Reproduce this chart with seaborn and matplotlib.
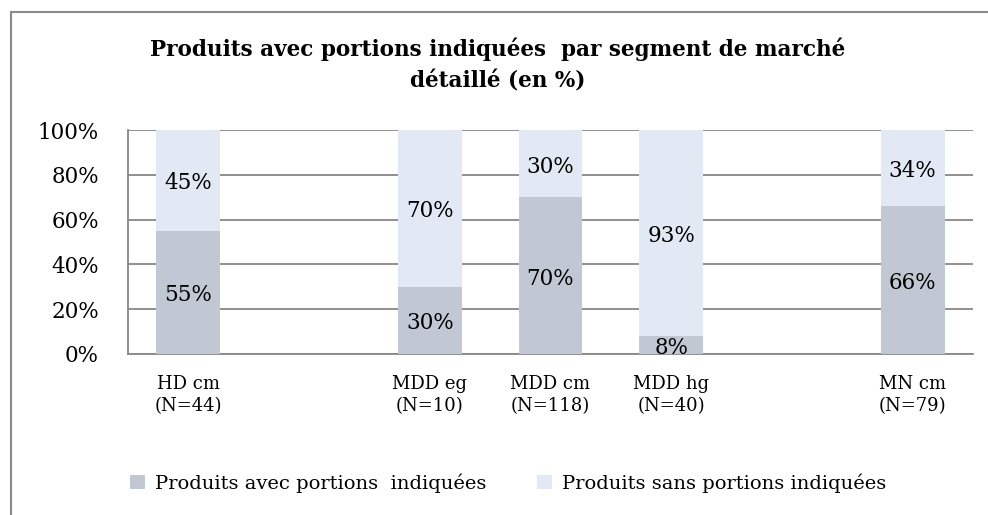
import pandas as pd
import matplotlib.pyplot as plt
import seaborn as sns
from matplotlib.patches import Patch, Rectangle


segments = ["HD cm\n(N=44)", " ", "MDD eg\n(N=10)", "MDD cm\n(N=118)",
            "MDD hg\n(N=40)", "  ", "MN cm\n(N=79)"]
shown = ["HD cm\n(N=44)", "MDD eg\n(N=10)", "MDD cm\n(N=118)",
         "MDD hg\n(N=40)", "MN cm\n(N=79)"]
avec = [55, 30, 70, 8, 66]
sans = [45, 70, 30, 93, 34]

series_names = ["Produits avec portions  indiquées", "Produits sans portions indiquées"]
col_avec = "#c1c8d4"
col_sans = "#e3e9f4"
grid_col = "#878787"

sns.set_style("white")
plt.rcParams['font.family'] = ['DejaVu Serif']
plt.rcParams['text.color'] = 'black'
plt.rcParams['xtick.color'] = 'black'
plt.rcParams['ytick.color'] = 'black'

df = pd.DataFrame({"segment": shown, "avec": avec, "sans": sans})
df["total"] = (df["avec"] + df["sans"]).clip(upper=100)

fig = plt.figure(figsize=(9.88, 5.15), dpi=100)
ax = fig.add_axes([128 / 988, 1 - 354 / 515, (973 - 128) / 988, (354 - 130) / 515])

# light part first (full height), dark part on top
sns.barplot(data=df, x="segment", y="total", order=segments, color=col_sans,
            width=0.53, saturation=1, linewidth=0, ax=ax, zorder=2)
sns.barplot(data=df, x="segment", y="avec", order=segments, color=col_avec,
            width=0.53, saturation=1, linewidth=0, ax=ax, zorder=3)

# data labels
pos = {s: i for i, s in enumerate(segments)}
for s, a, b in zip(shown, avec, sans):
    x = pos[s]
    ax.text(x, a / 2 - 1.3, f"{a}%", ha="center", va="center", fontsize=15.5, zorder=5)
    top = min(a + b, 100)
    ax.text(x, (a + top) / 2 - 1.3, f"{b}%", ha="center", va="center", fontsize=15.5, zorder=5)

ax.set_ylim(0, 100)
ax.set_xlim(-0.5, len(segments) - 0.5)
ax.set_yticks([0, 20, 40, 60, 80, 100])
ax.set_yticklabels([f"{v}%" for v in [0, 20, 40, 60, 80, 100]], fontsize=15.5)
ax.yaxis.grid(True, color=grid_col, linewidth=1.3, zorder=0)
ax.set_axisbelow(True)
ax.set_xlabel("")
ax.set_ylabel("")

ax.set_xticks(range(len(segments)))
ax.set_xticklabels(segments, fontsize=13, linespacing=1.3)
ax.set_xticks([i - 0.5 for i in range(len(segments) + 1)], minor=True)
ax.tick_params(axis="x", which="major", length=0, pad=15)
ax.tick_params(axis="x", which="minor", length=6, width=1.3, color=grid_col, direction="out")
ax.tick_params(axis="y", length=6, width=1.3, color=grid_col, labelcolor="black",
               direction="out", pad=15)

for side in ["top", "right"]:
    ax.spines[side].set_visible(False)
for side in ["left", "bottom"]:
    ax.spines[side].set_color(grid_col)
    ax.spines[side].set_linewidth(1.3)

fig.text(0.504, 1 - 65 / 515,
         "Produits avec portions indiquées  par segment de marché\ndétaillé (en %)",
         ha="center", va="center", fontsize=15.5, fontweight="bold", linespacing=1.6)

handles = [Patch(facecolor=col_avec, edgecolor="none"),
           Patch(facecolor=col_sans, edgecolor="none")]
fig.legend(handles, series_names, loc="center", bbox_to_anchor=(508 / 988, 1 - 483 / 515),
           ncol=2, frameon=False, fontsize=14, handlelength=0.8, handleheight=0.8,
           handletextpad=0.5, columnspacing=2.6)

# outer chart border
fig.patches.append(Rectangle((11 / 988, -0.01), 0.99, 1 - 12 / 515 + 0.01,
                             transform=fig.transFigure, fill=False,
                             edgecolor="#8a8a8a", linewidth=1.5))

plt.savefig("out.png", dpi=100)
plt.close()
